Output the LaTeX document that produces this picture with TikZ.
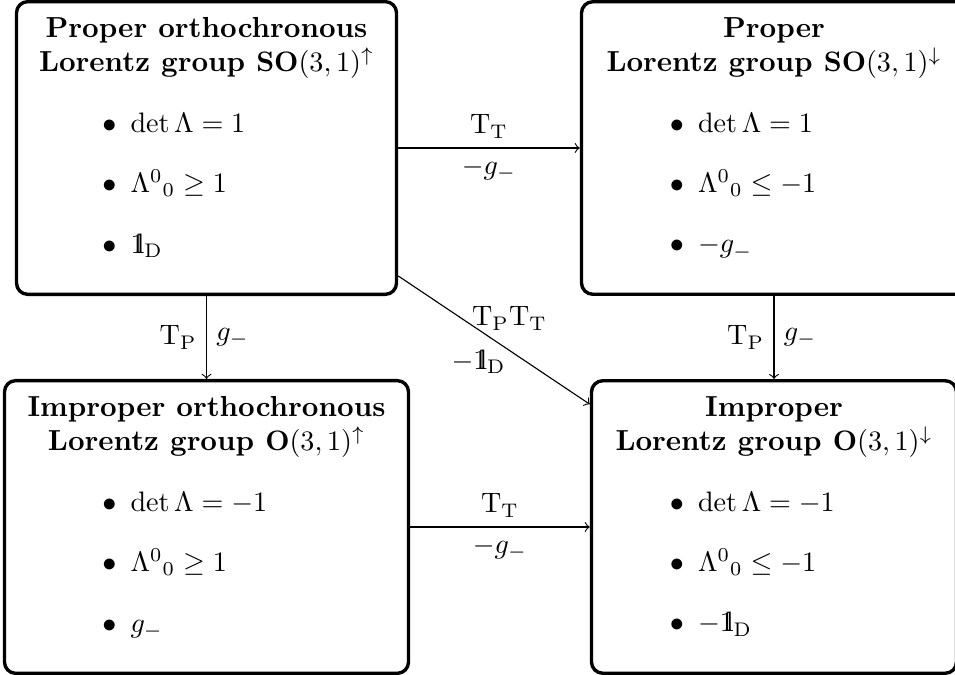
\documentclass[tikz,border=0pt]{standalone}
\usepackage{amsmath,amssymb}
\usepackage{tikz}
\usetikzlibrary{
  arrows.meta,
  positioning,
  calc,
}

% double-struck one
\newcommand{\idone}{\mathrm{1\kern-0.28em l}}

% title (two lines) and three bullet items of one group box
\newcommand{\grptext}[5]{%
  \textbf{#1}\\
  \textbf{#2}\\[9.1pt]
  \makebox[74pt][l]{$\bullet$\hspace{5pt}#3}\\[9.1pt]
  \makebox[74pt][l]{$\bullet$\hspace{5pt}#4}\\[9.1pt]
  \makebox[74pt][l]{$\bullet$\hspace{5pt}#5}\rule[-9.2pt]{0pt}{0pt}}

\begin{document}
\begin{tikzpicture}[
  >=to,
  font=\fontsize{10.3pt}{12.36pt}\selectfont,
  grp/.style={draw, very thick, rounded corners, align=center,
    inner xsep=0pt, inner ysep=5.5pt},
]
  % Scale: 1px = 0.0125cm
  \def\s{0.0125}

  \useasboundingbox (0,0) rectangle ({955*\s},{-675*\s});

  % Group boxes
  \node[grp, minimum width={380*\s*1cm}] (SOup) at ({206.5*\s},{-148*\s})
    {\grptext{Proper orthochronous}{Lorentz group $\mathbf{SO}(3,1)^{\uparrow}$}
      {$\det\Lambda = 1$}{${\Lambda^{0}}_{0} \geq 1$}{$\idone_{\mathrm{D}}$}};
  \node[grp, minimum width={385*\s*1cm}] (SOdown) at ({774*\s},{-148*\s})
    {\grptext{Proper}{Lorentz group $\mathbf{SO}(3,1)^{\downarrow}$}
      {$\det\Lambda = 1$}{${\Lambda^{0}}_{0} \leq -1$}{$-g_{-}$}};
  \node[grp, minimum width={404*\s*1cm}] (Oup) at ({206.5*\s},{-527*\s})
    {\grptext{Improper orthochronous}{Lorentz group $\mathbf{O}(3,1)^{\uparrow}$}
      {$\det\Lambda = -1$}{${\Lambda^{0}}_{0} \geq 1$}{$g_{-}$}};
  \node[grp, minimum width={365*\s*1cm}] (Odown) at ({774*\s},{-527*\s})
    {\grptext{Improper}{Lorentz group $\mathbf{O}(3,1)^{\downarrow}$}
      {$\det\Lambda = -1$}{${\Lambda^{0}}_{0} \leq -1$}{$-\idone_{\mathrm{D}}$}};

  % Transformations
  \draw[->] (SOup) -- (SOdown)
    node[midway, above] {$\mathrm{T}_{\mathrm{T}}$}
    node[midway, below] {$-g_{-}$};
  \draw[->] (Oup) -- (Odown)
    node[midway, above] {$\mathrm{T}_{\mathrm{T}}$}
    node[midway, below] {$-g_{-}$};
  \draw[->] (SOup) -- (Oup)
    node[midway, left] {$\mathrm{T}_{\mathrm{P}}$}
    node[midway, right] {$g_{-}$};
  \draw[->] (SOdown) -- (Odown)
    node[midway, left] {$\mathrm{T}_{\mathrm{P}}$}
    node[midway, right] {$g_{-}$};
  \draw[->] (SOup) -- (Odown)
    node[midway, above, xshift=5.5pt] {$\mathrm{T}_{\mathrm{P}}\mathrm{T}_{\mathrm{T}}$}
    node[midway, below, xshift=-5.5pt] {$-\idone_{\mathrm{D}}$};

\end{tikzpicture}
\end{document}
